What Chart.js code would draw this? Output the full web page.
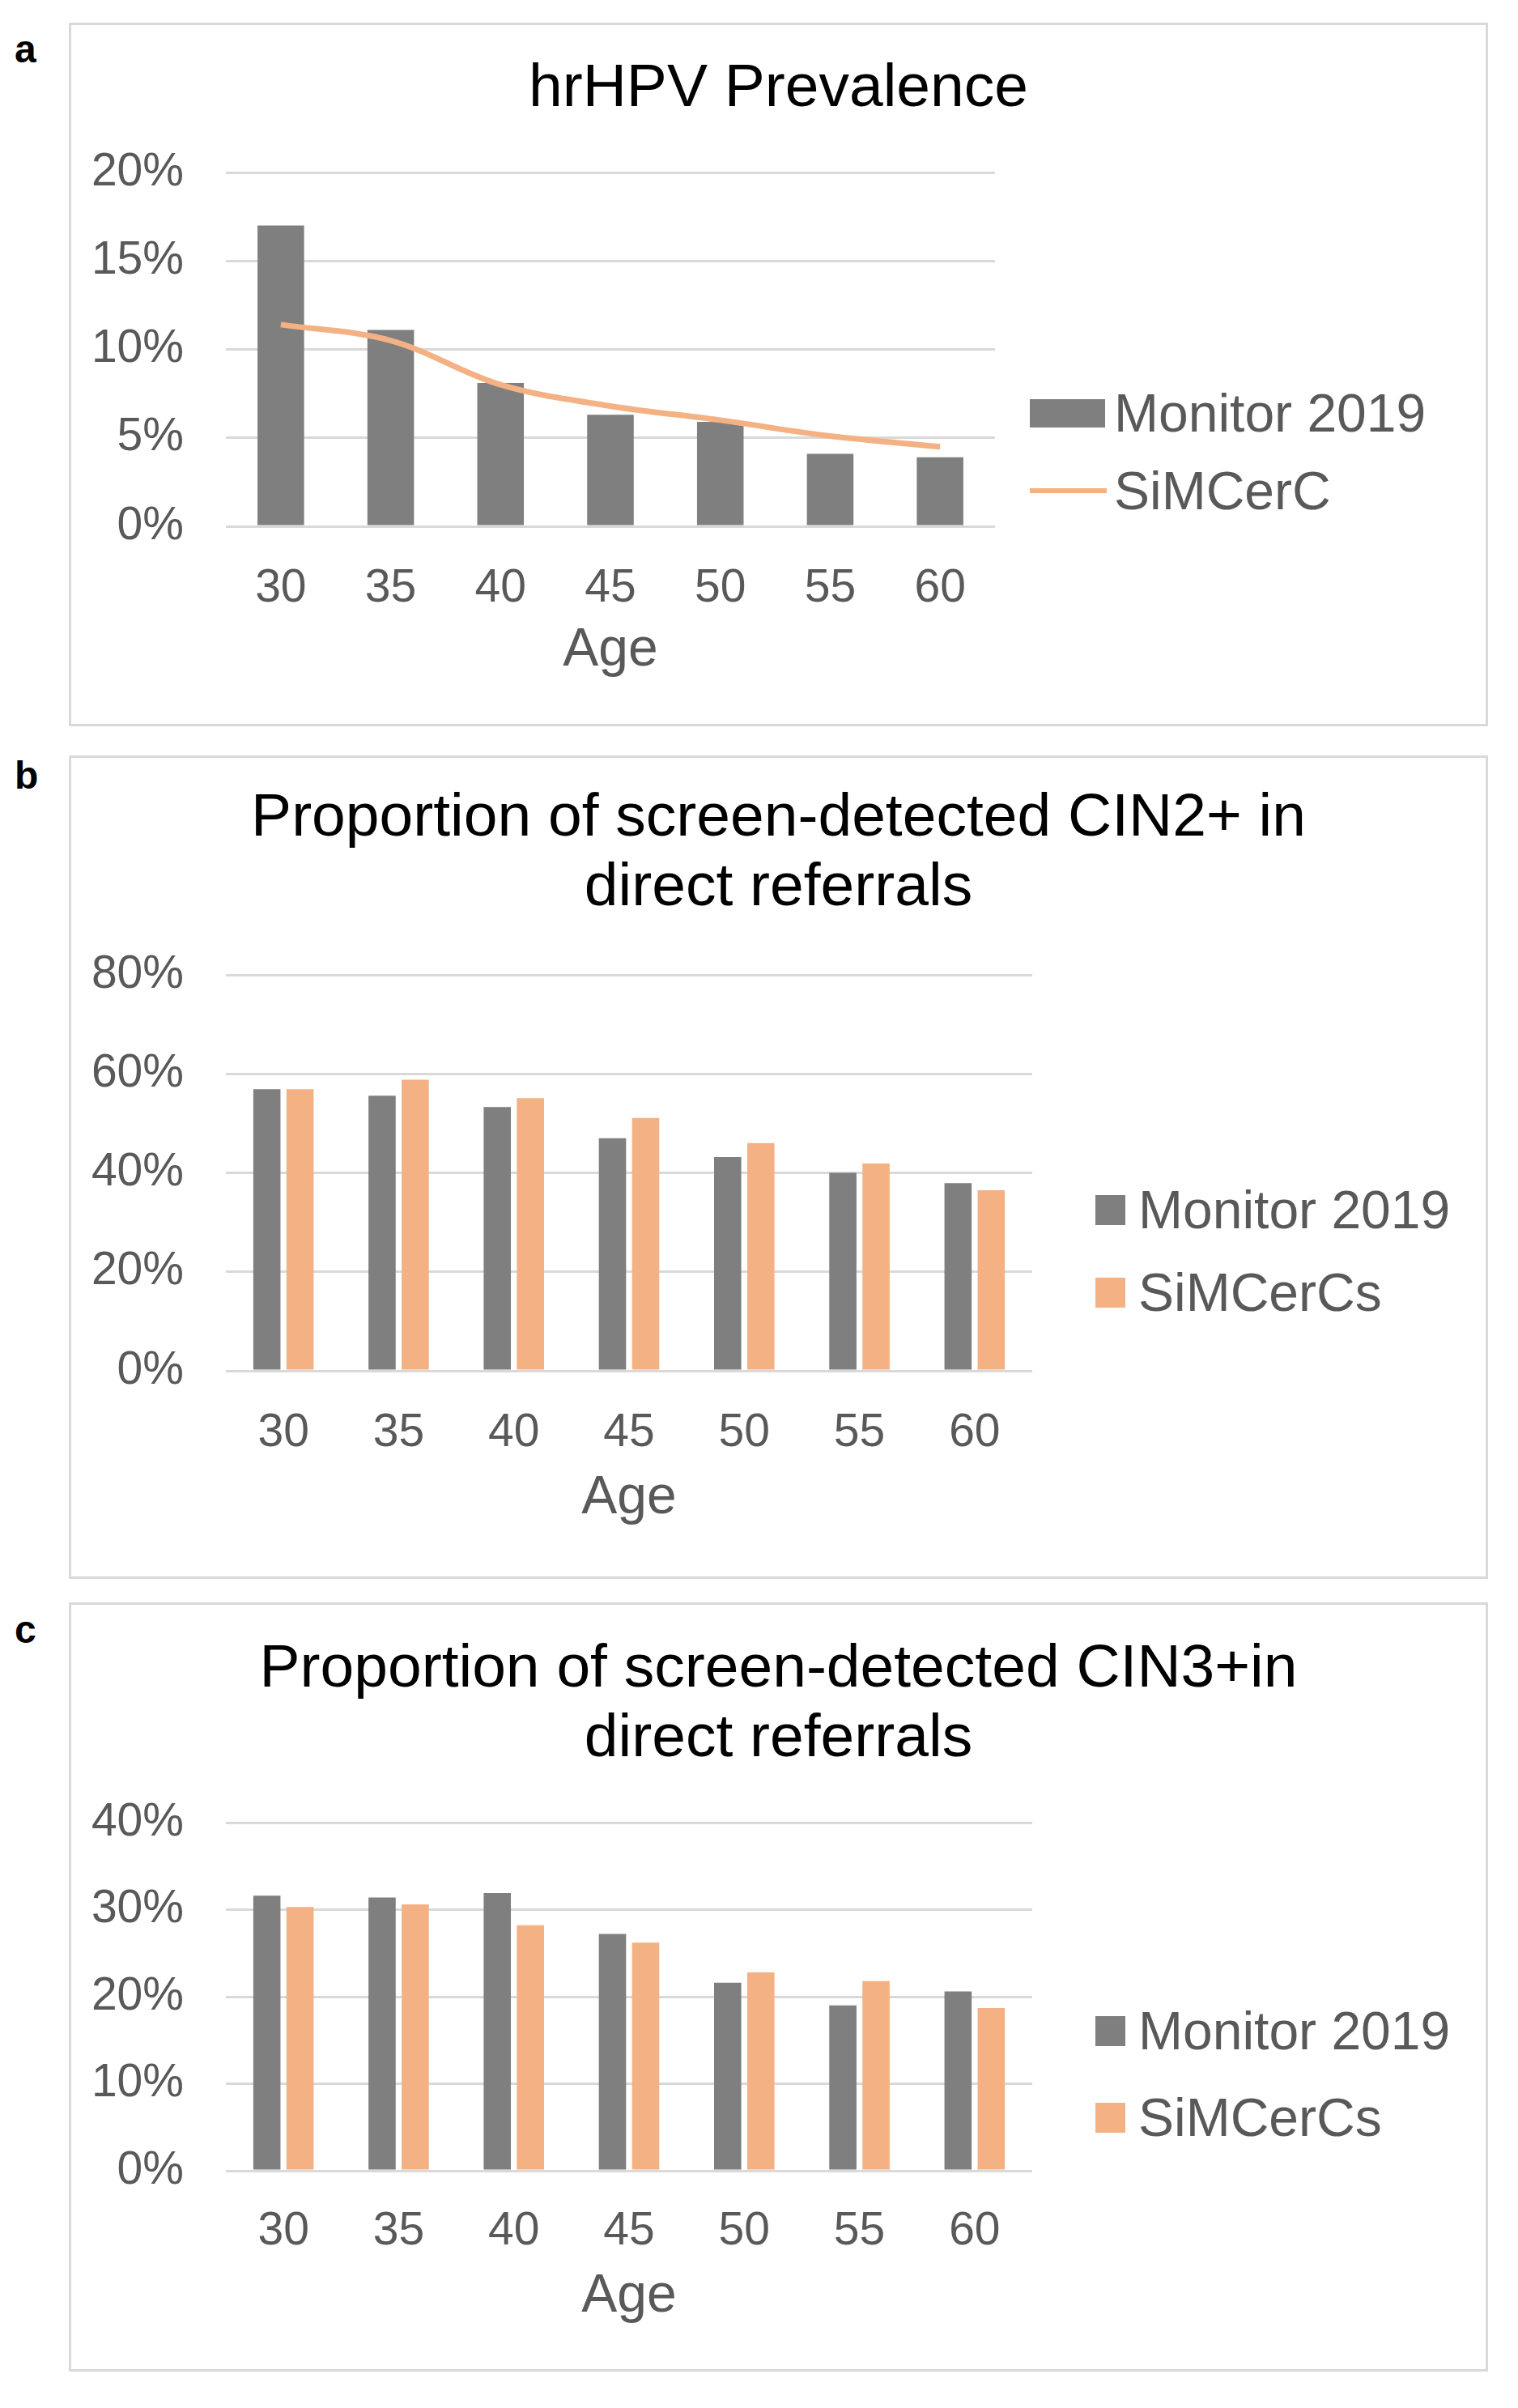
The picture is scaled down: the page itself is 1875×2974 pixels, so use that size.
<!DOCTYPE html>
<html>
<head>
<meta charset="utf-8">
<script src="https://cdn.jsdelivr.net/npm/chart.js@4.4.1/dist/chart.umd.min.js"></script>
<style>
  body { margin: 0; background: #fff; width: 1875px; height: 2974px; position: relative;
         font-family: "Liberation Sans", Arial, sans-serif; }
  .panel { position: absolute; left: 85px; width: 1753px; box-sizing: border-box; border: 3px solid #d9d9d9; }
  .panel canvas { position: absolute; left: -3px; top: -3px; }
  .tag { position: absolute; left: 18px; font-weight: bold; font-size: 48px; line-height: 48px; color: #000; }
  .lg-swatch { position: absolute; }
  .lg-text { position: absolute; font-size: 66px; line-height: 66px; color: #595959; white-space: nowrap; }
</style>
</head>
<body>

<div class="tag" style="top:37px">a</div>
<div class="tag" style="top:934px">b</div>
<div class="tag" style="top:1989px">c</div>

<div class="panel" style="top:28px;height:869px"><canvas id="chartA" width="1753" height="869"></canvas></div>
<div class="panel" style="top:933px;height:1017px"><canvas id="chartB" width="1753" height="1017"></canvas></div>
<div class="panel" style="top:1979px;height:950px"><canvas id="chartC" width="1753" height="950"></canvas></div>

<script>
// данные (проценты)
var ages = ['30', '35', '40', '45', '50', '55', '60'];

var prevMonitor = [17.0, 11.1, 8.1, 6.3, 5.9, 4.1, 3.9];
var prevSim = [11.4, 10.5, 8.0, 6.8, 6.0, 5.1, 4.5];

var cin2Monitor = [56.9, 55.6, 53.3, 47.0, 43.2, 40.0, 37.9];
var cin2Sim = [56.9, 58.8, 55.1, 51.1, 46.0, 41.9, 36.5];

var cin3Monitor = [31.6, 31.4, 31.9, 27.2, 21.6, 19.0, 20.6];
var cin3Sim = [30.3, 30.6, 28.2, 26.2, 22.8, 21.8, 18.7];

var grey = '#7f7f7f';
var peach = '#f4b183';
var inkGrey = '#595959';
var gridGrey = '#d9d9d9';
var family = '"Liberation Sans", Arial, sans-serif';

function makeOptions(p) {
    return {
        responsive: false,
        animation: false,
        devicePixelRatio: 1,
        layout: { padding: 0 },
        plugins: {
            legend: { display: false },
            tooltip: { enabled: false },
            title: {
                display: true,
                text: p.title,
                color: '#000',
                font: { family: family, size: 75, weight: 'normal', lineHeight: p.titleLH },
                padding: { top: p.titleTop, bottom: p.titleBottom }
            }
        },
        scales: {
            x: {
                grid: { display: false },
                border: { display: false },
                ticks: { color: inkGrey, font: { family: family, size: 57 }, padding: p.xTickPad, maxRotation: 0, autoSkip: false },
                title: { display: true, text: 'Age', color: inkGrey, font: { family: family, size: 66 }, padding: { top: 0, bottom: p.agePad } },
                afterFit: function (s) { s.height = p.xHeight; }
            },
            y: {
                min: 0,
                max: p.yMax,
                ticks: {
                    stepSize: p.yStep,
                    color: inkGrey,
                    font: { family: family, size: 57 },
                    padding: 52,
                    callback: function (v) { return v + '%'; }
                },
                grid: { color: gridGrey, lineWidth: 3, drawTicks: false },
                border: { display: false },
                afterFit: function (s) { s.width = 194; }
            },
            // пустая ось справа — место под легенду, заголовок остаётся по центру всей рамки
            pad: {
                type: 'linear',
                position: 'right',
                grid: { display: false },
                border: { display: false },
                ticks: { display: false },
                afterFit: function (s) { s.width = p.rightPad; }
            }
        }
    };
}

// легенда в HTML, строится из элементов легенды самого Chart.js
function htmlLegend(chart, spec) {
    var items = Chart.defaults.plugins.legend.labels.generateLabels(chart);
    items.sort(function (a, b) { return a.datasetIndex - b.datasetIndex; });
    items.forEach(function (item, i) {
        var ds = chart.data.datasets[item.datasetIndex];
        var isLine = (ds.type || chart.config.type) === 'line';
        var sw = document.createElement('div');
        sw.className = 'lg-swatch';
        var box = isLine ? spec.line : spec.box;
        sw.style.left = spec.left + 'px';
        sw.style.width = box.w + 'px';
        sw.style.height = box.h + 'px';
        sw.style.top = (spec.centers[i] - box.h / 2) + 'px';
        sw.style.background = isLine ? ds.borderColor : ds.backgroundColor;
        document.body.appendChild(sw);

        var tx = document.createElement('div');
        tx.className = 'lg-text';
        tx.textContent = item.text;
        tx.style.left = spec.textLeft + 'px';
        tx.style.top = (spec.centers[i] - 33) + 'px';
        document.body.appendChild(tx);
    });
}

var chartA = new Chart(document.getElementById('chartA'), {
    type: 'bar',
    data: {
        labels: ages,
        datasets: [{
            label: 'Monitor 2019',
            data: prevMonitor,
            backgroundColor: grey,
            categoryPercentage: 1,
            barPercentage: 0.424,
            order: 1
        }, {
            type: 'line',
            label: 'SiMCerC',
            data: prevSim,
            borderColor: peach,
            borderWidth: 7,
            pointRadius: 0,
            tension: 0.35,
            fill: false,
            order: 0
        }]
    },
    options: makeOptions({
        title: 'hrHPV Prevalence', titleLH: 1.2, titleTop: 37.5, titleBottom: 57.5,
        rightPad: 609, yMax: 20, yStep: 5, xHeight: 247, xTickPad: 35, agePad: 53.4
    })
});

var chartB = new Chart(document.getElementById('chartB'), {
    type: 'bar',
    data: {
        labels: ages,
        datasets: [{
            label: 'Monitor 2019',
            data: cin2Monitor,
            backgroundColor: grey,
            categoryPercentage: 0.576,
            barPercentage: 0.82
        }, {
            label: 'SiMCerCs',
            data: cin2Sim,
            backgroundColor: peach,
            categoryPercentage: 0.576,
            barPercentage: 0.82
        }]
    },
    options: makeOptions({
        title: ['Proportion of screen-detected CIN2+ in', 'direct referrals'], titleLH: 86 / 75,
        titleTop: 35, titleBottom: 64,
        rightPad: 563, yMax: 80, yStep: 20, xHeight: 257, xTickPad: 35, agePad: 59.4
    })
});

var chartC = new Chart(document.getElementById('chartC'), {
    type: 'bar',
    data: {
        labels: ages,
        datasets: [{
            label: 'Monitor 2019',
            data: cin3Monitor,
            backgroundColor: grey,
            categoryPercentage: 0.576,
            barPercentage: 0.82
        }, {
            label: 'SiMCerCs',
            data: cin3Sim,
            backgroundColor: peach,
            categoryPercentage: 0.576,
            barPercentage: 0.82
        }]
    },
    options: makeOptions({
        title: ['Proportion of screen-detected CIN3+in', 'direct referrals'], titleLH: 86 / 75,
        titleTop: 40.5, titleBottom: 59.5,
        rightPad: 563, yMax: 40, yStep: 10, xHeight: 248, xTickPad: 33, agePad: 52.4
    })
});

htmlLegend(chartA, { left: 1272, textLeft: 1376, centers: [510, 606], box: { w: 93, h: 35 }, line: { w: 95, h: 6 } });
htmlLegend(chartB, { left: 1353, textLeft: 1406, centers: [1494, 1596], box: { w: 37, h: 37 } });
htmlLegend(chartC, { left: 1353, textLeft: 1406, centers: [2508, 2615], box: { w: 37, h: 37 } });
</script>
</body>
</html>
